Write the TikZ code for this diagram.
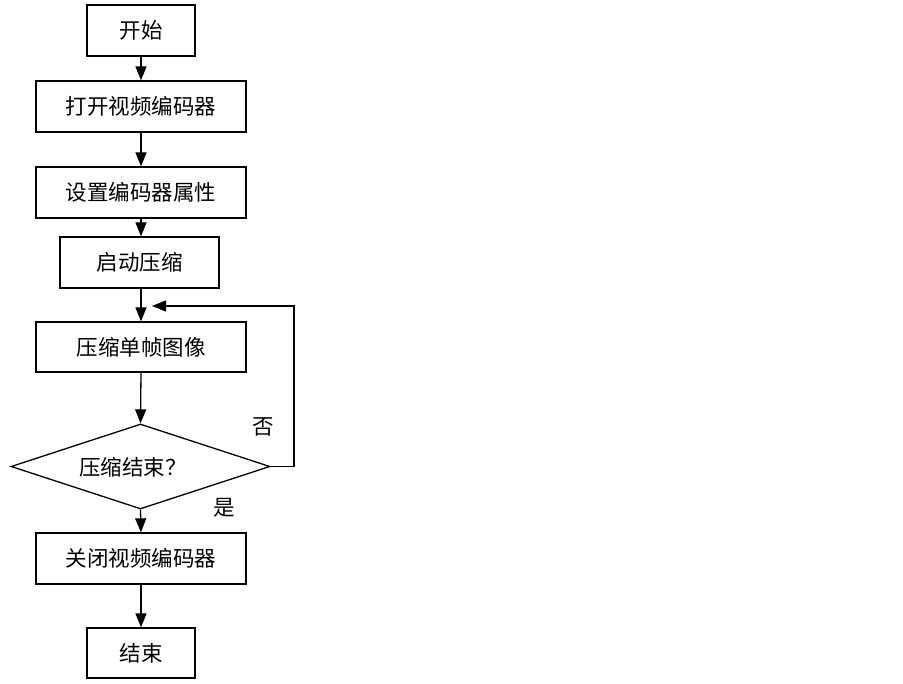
\documentclass[tikz,border=0pt]{standalone}
\usepackage{fontspec}
\setmainfont{Noto Sans CJK SC}
\usetikzlibrary{arrows.meta,shapes.geometric}
\begin{document}
\begin{tikzpicture}[x=1pt,y=-1pt,
  every node/.style={font=\fontsize{21.5}{24}\selectfont},
  procbox/.style={draw,line width=1.3pt,inner sep=0pt},
  flow/.style={line width=1.3pt,-{Triangle[length=14pt,width=11pt]}},
  plain/.style={line width=1.3pt}]
\useasboundingbox[fill=white] (0,0) rectangle (903,684);
\node[procbox,minimum width=108pt,minimum height=51pt] (start) at (141,30.5) {开始};
\node[procbox,minimum width=210pt,minimum height=51pt] (open) at (141,106.5) {打开视频编码器};
\node[procbox,minimum width=210pt,minimum height=51pt] (set) at (141,192.5) {设置编码器属性};
\node[procbox,minimum width=159pt,minimum height=51pt] (go) at (139.5,262.5) {启动压缩};
\node[procbox,minimum width=210pt,minimum height=50pt] (frame) at (141,347) {压缩单帧图像};
\node[draw,diamond,line width=1.3pt,inner sep=0pt,minimum width=259pt,minimum height=85pt] (dec) at (140.5,466.5) {};
\node (dectext) at (133,467) {压缩结束？};
\node[procbox,minimum width=210pt,minimum height=51pt] (close) at (141,558.5) {关闭视频编码器};
\node[procbox,minimum width=108pt,minimum height=50pt] (stop) at (141,653) {结束};
\node (no) at (263,427) {否};
\node (yes) at (224,508) {是};
\coordinate (loopin) at (152,306);
\coordinate (loopc1) at (294,466.5);
\coordinate (loopc2) at (294,306);
\draw[flow] (start.south) -- (open.north);
\draw[flow] (open.south) -- (set.north);
\draw[flow] (set.south) -- (set.south |- go.north);
\draw[flow] (go.south -| frame.north) -- (frame.north);
\draw[flow] (frame.south) -- (dec.north);
\draw[flow] (dec.south) -- (close.north);
\draw[flow] (close.south) -- (stop.north);
\draw[flow] (dec.east) -- (loopc1) -- (loopc2) -- (loopin);
\end{tikzpicture}
\end{document}
